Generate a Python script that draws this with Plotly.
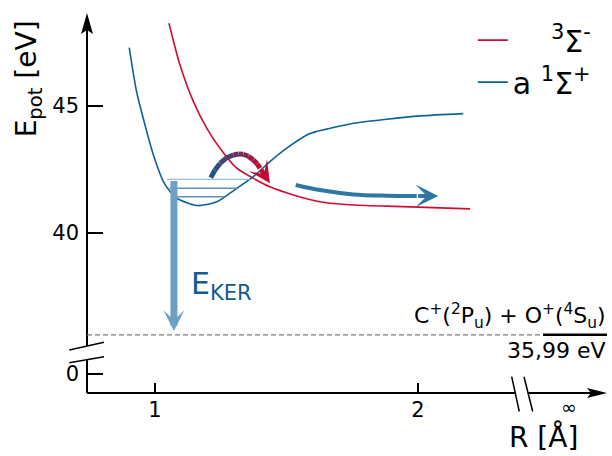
import plotly.graph_objects as go

# ---------------- data (R in Å, E in eV) ----------------
blue_R = [0.902, 0.930, 0.962, 0.994, 1.032, 1.057, 1.083, 1.159, 1.235, 1.311, 1.374,
          1.437, 1.501, 1.577, 1.615, 1.653, 1.754, 1.881, 2.008, 2.172]
blue_E = [47.30, 45.56, 44.25, 43.07, 42.02, 41.63, 41.37, 41.08, 41.23, 41.76, 42.22,
          42.81, 43.34, 43.86, 44.00, 44.09, 44.32, 44.48, 44.61, 44.70]

red_R = [1.053, 1.095, 1.146, 1.197, 1.247, 1.311, 1.374, 1.437, 1.526, 1.627,
         1.754, 1.944, 2.198]
red_E = [48.26, 46.61, 45.17, 44.12, 43.34, 42.55, 42.15, 41.82, 41.50, 41.23,
         41.10, 41.04, 40.95]

vib_E = [42.11, 41.76, 41.43]
vib_R_left = [1.045, 1.055, 1.075]
vib_R_right = [1.360, 1.311, 1.262]

ker_R = 1.072
ker_E_top = 42.11

threshold_E = 35.99
threshold_label = "35,99 eV"
channel_label = "C<sup>+</sup>(<sup>2</sup>P<sub>u</sub>) + O<sup>+</sup>(<sup>4</sup>S<sub>u</sub>)"

zero_display_E = 34.45          # position of the "0" tick below the axis break
ytick_vals = [zero_display_E, 40, 45]
ytick_text = ["0", "40", "45"]
xtick_vals = [1, 2]
xtick_text = ["1", "2"]

# curved transfer arrow (a 1Σ+ -> 3Σ-)
transfer_R = [1.212, 1.228, 1.247, 1.273, 1.298, 1.317, 1.336, 1.355, 1.374, 1.389, 1.399]
transfer_E = [42.18, 42.48, 42.74, 42.97, 43.07, 43.11, 43.10, 43.02, 42.87, 42.72, 42.55]
transfer_tip = (1.437, 41.96)

# dissociation arrow
dissoc_R = [1.535, 1.627, 1.754, 1.881, 1.995]
dissoc_E = [41.89, 41.69, 41.52, 41.47, 41.46]
dissoc_tip = (2.077, 41.46)

label_red = "\u00a0\u00a0\u00a0\u00a0<sup>3</sup>Σ<sup>-</sup>"
label_blue = "a <sup>1</sup>Σ<sup>+</sup>"

# ---------------- styles ----------------
FONT = "DejaVu Sans"
RED = "rgb(208,12,52)"
BLUE = "rgb(14,98,150)"
KER_BLUE = "rgb(108,160,196)"
ARROW_BLUE = "rgb(45,120,162)"

X_RANGE = [0.7414, 2.7186]
Y_RANGE = [33.701, 48.661]

fig = go.Figure()

fig.add_trace(go.Scatter(x=red_R, y=red_E, mode="lines", name=label_red,
                         line=dict(color=RED, width=1.6, shape="spline", smoothing=0.7)))
fig.add_trace(go.Scatter(x=blue_R, y=blue_E, mode="lines", name=label_blue,
                         line=dict(color=BLUE, width=1.6, shape="spline", smoothing=0.7)))

# vibrational levels
for i, (e, r0, r1) in enumerate(zip(vib_E, vib_R_left, vib_R_right)):
    col = "rgb(150,190,215)" if i == 0 else "rgb(95,145,185)"
    fig.add_trace(go.Scatter(x=[r0, r1], y=[e, e], mode="lines", showlegend=False,
                             hoverinfo="skip", line=dict(color=col, width=1.4)))

# gradient curved arrow
c0 = (30, 85, 135)
c1 = (192, 10, 50)
n = len(transfer_R) - 1
for i in range(n):
    t = i / max(n - 1, 1)
    col = "rgb(%d,%d,%d)" % tuple(int(a + (b - a) * t) for a, b in zip(c0, c1))
    fig.add_trace(go.Scatter(x=transfer_R[i:i + 2], y=transfer_E[i:i + 2], mode="lines",
                             showlegend=False, hoverinfo="skip",
                             line=dict(color=col, width=5)))

# dissociation arrow shaft
fig.add_trace(go.Scatter(x=dissoc_R, y=dissoc_E, mode="lines", showlegend=False,
                         hoverinfo="skip", line=dict(color=ARROW_BLUE, width=4, shape="spline")))

annotations = []
# KER arrow
annotations.append(dict(x=ker_R, y=threshold_E + 0.15, ax=ker_R, ay=ker_E_top,
                        xref="x", yref="y", axref="x", ayref="y", text="",
                        showarrow=True, arrowhead=3, arrowwidth=7, arrowsize=0.5,
                        arrowcolor=KER_BLUE, standoff=0))
# transfer arrow head
annotations.append(dict(x=transfer_tip[0], y=transfer_tip[1], ax=transfer_R[-1], ay=transfer_E[-1],
                        xref="x", yref="y", axref="x", ayref="y", text="",
                        showarrow=True, arrowhead=3, arrowwidth=5, arrowsize=0.72,
                        arrowcolor="rgb(192,10,50)", standoff=0))
# dissociation arrow head
annotations.append(dict(x=dissoc_tip[0], y=dissoc_tip[1], ax=dissoc_R[-1], ay=dissoc_E[-1],
                        xref="x", yref="y", axref="x", ayref="y", text="",
                        showarrow=True, arrowhead=3, arrowwidth=4, arrowsize=0.95,
                        arrowcolor=ARROW_BLUE, standoff=0))
# texts
annotations.append(dict(x=1.128, y=37.95, xref="x", yref="y", xanchor="left", yanchor="middle",
                        text="E<sub>KER</sub>", showarrow=False,
                        font=dict(family=FONT, size=30, color="rgb(18,92,142)")))
annotations.append(dict(x=1.002, y=threshold_E, xref="paper", yref="y", xanchor="right",
                        yanchor="bottom", yshift=1, text=channel_label, showarrow=False,
                        font=dict(family=FONT, size=22, color="black")))
annotations.append(dict(x=1.002, y=threshold_E, xref="paper", yref="y", xanchor="right",
                        yanchor="top", yshift=-1, text=threshold_label, showarrow=False,
                        font=dict(family=FONT, size=22, color="black")))
annotations.append(dict(x=-0.113, y=0.826, xref="paper", yref="paper", xanchor="center",
                        yanchor="middle", textangle=-90, text="E<sub>pot</sub> [eV]",
                        showarrow=False, font=dict(family=FONT, size=28, color="black")))
annotations.append(dict(x=0.877, y=-0.116, xref="paper", yref="paper", xanchor="center",
                        yanchor="middle", text="R [Å]",
                        showarrow=False, font=dict(family=FONT, size=28, color="black")))
annotations.append(dict(x=0.927, y=-0.036, xref="paper", yref="paper", xanchor="center",
                        yanchor="middle", text="∞",
                        showarrow=False, font=dict(family=FONT, size=19, color="black")))

shapes = []
AX = dict(color="black", width=2)
# axis lines with breaks
shapes.append(dict(type="line", xref="paper", yref="paper", x0=0, x1=0, y0=0, y1=0.088, line=AX))
shapes.append(dict(type="line", xref="paper", yref="paper", x0=0, x1=0, y0=0.1237, y1=0.96, line=AX))
shapes.append(dict(type="line", xref="paper", yref="paper", x0=0, x1=0.8238, y0=0, y1=0, line=AX))
shapes.append(dict(type="line", xref="paper", yref="paper", x0=0.8485, x1=0.975, y0=0, y1=0, line=AX))
BR = dict(color="black", width=1.5)
shapes.append(dict(type="line", xref="paper", yref="paper", x0=-0.034, y0=0.1132, x1=0.0327, y1=0.1334, line=BR))
shapes.append(dict(type="line", xref="paper", yref="paper", x0=-0.034, y0=0.0797, x1=0.0327, y1=0.0955, line=BR))
shapes.append(dict(type="line", xref="paper", yref="paper", x0=0.8167, y0=0.0429, x1=0.8313, y1=-0.0487, line=BR))
shapes.append(dict(type="line", xref="paper", yref="paper", x0=0.8404, y0=0.0429, x1=0.8571, y1=-0.0487, line=BR))
# axis arrowheads
shapes.append(dict(type="path", xref="paper", yref="paper", xsizemode="pixel", ysizemode="pixel",
                   xanchor=0, yanchor=1, path="M0,0 L-6,-21 L0,-17 L6,-21 Z",
                   fillcolor="black", line=dict(width=0)))
shapes.append(dict(type="path", xref="paper", yref="paper", xsizemode="pixel", ysizemode="pixel",
                   xanchor=1, yanchor=0, path="M0,0 L-20,5 L-16,0 L-20,-5 Z",
                   fillcolor="black", line=dict(width=0)))
# dissociation threshold
shapes.append(dict(type="line", xref="paper", yref="y", x0=0, x1=0.877, y0=threshold_E, y1=threshold_E,
                   line=dict(color="rgb(120,120,120)", width=1.2, dash="5px,3px")))
shapes.append(dict(type="line", xref="paper", yref="y", x0=0.877, x1=1.0, y0=threshold_E, y1=threshold_E,
                   line=dict(color="black", width=2.5)))

fig.update_layout(
    width=612, height=456, autosize=False,
    margin=dict(l=87, r=5, t=13, b=63),
    paper_bgcolor="white", plot_bgcolor="white",
    font=dict(family=FONT, size=21, color="black"),
    xaxis=dict(range=X_RANGE, showgrid=False, zeroline=False, showline=False,
               tickvals=xtick_vals, ticktext=xtick_text, ticks="inside", ticklen=10,
               tickwidth=1.5, tickcolor="black", ticklabelstandoff=2,
               tickfont=dict(family=FONT, size=21)),
    yaxis=dict(range=Y_RANGE, showgrid=False, zeroline=False, showline=False,
               tickvals=ytick_vals, ticktext=ytick_text, ticks="inside", ticklen=16,
               tickwidth=2, tickcolor="black", ticklabelstandoff=7,
               tickfont=dict(family=FONT, size=21)),
    showlegend=True,
    legend=dict(x=0.742, y=0.997, xanchor="left", yanchor="top",
                bgcolor="rgba(0,0,0,0)", font=dict(family=FONT, size=30),
                itemwidth=30, tracegroupgap=0),
    annotations=annotations,
    shapes=shapes,
)

fig.write_html("out.html")
